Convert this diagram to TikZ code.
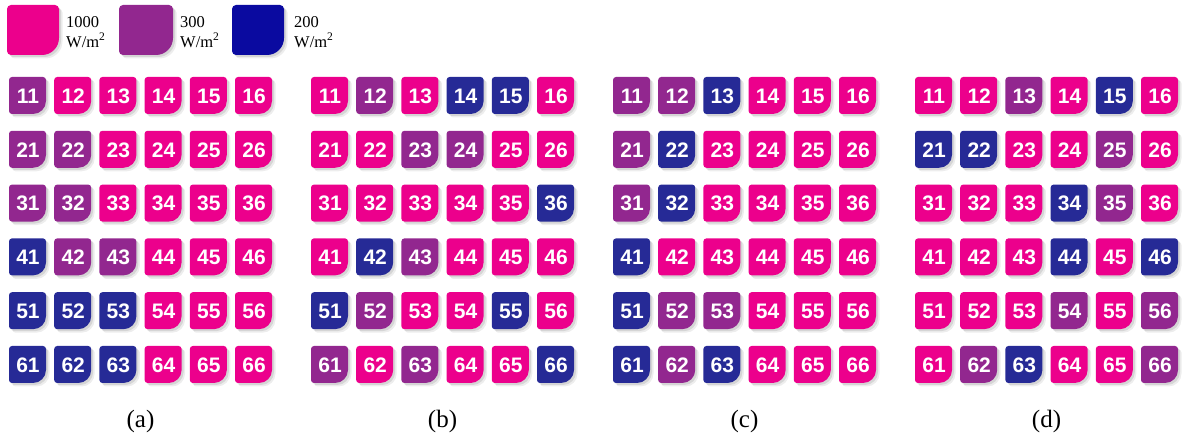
\documentclass[tikz,border=0pt]{standalone}
\usepackage{fontspec}
\setmainfont{Liberation Serif}
\newfontfamily\tilefont{Liberation Sans}
\definecolor{tM}{RGB}{236,0,140}
\definecolor{tP}{RGB}{146,39,143}
\definecolor{tB}{RGB}{38,42,150}
\definecolor{legB}{RGB}{10,10,160}
\def\tilepath#1#2#3#4{(0,#3) -- (0,#2-#3) arc[start angle=180,end angle=90,radius=#3] -- (#1-#3,#2) arc[start angle=90,end angle=0,radius=#3] -- (#1,#4) arc[start angle=0,end angle=-90,radius=#4] -- (#3,0) arc[start angle=270,end angle=180,radius=#3] -- cycle}
\begin{document}
\begin{tikzpicture}[x=1pt,y=1pt,
  tilelabel/.style={text=white,font=\tilefont\bfseries\fontsize{21}{21}\selectfont,inner sep=0pt},
  legendtext/.style={align=left,anchor=north west,inner sep=0pt,font=\fontsize{16.5}{20}\selectfont},
  panellabel/.style={anchor=base,inner sep=0pt,font=\fontsize{25}{25}\selectfont},
  shadowA/.style={fill=black,opacity=0.10},
  shadowB/.style={fill=black,opacity=0.07}]
\useasboundingbox (0,0) rectangle (1183,438);

% legend
\foreach \lx/\lw/\lc/\ln/\ltx/\ltxt in {7/52/tM/l1/66/1000, 119/54/tP/l2/180/300, 232/52/legB/l3/294/200}{
  \begin{scope}[shift={(\lx,383)}]
    \fill[shadowB] [shift={(3.5,-3.5)}] \tilepath{\lw}{50}{4}{17};
    \fill[shadowA] [shift={(2,-2)}] \tilepath{\lw}{50}{4}{17};
    \fill[\lc] \tilepath{\lw}{50}{4}{17};
  \end{scope}
  \node[legendtext] (\ln) at (\ltx,422) {\ltxt\\W/m\textsuperscript{2}};
}

% tiles
\foreach \p/\pl/\list in {
 0/a/{P,M,M,M,M,M, P,P,M,M,M,M, P,P,M,M,M,M, B,P,P,M,M,M, B,B,B,M,M,M, B,B,B,M,M,M},
 1/b/{M,P,M,B,B,M, M,M,P,P,M,M, M,M,M,M,M,B, M,B,P,M,M,M, B,P,M,M,B,M, P,M,P,M,M,B},
 2/c/{P,P,B,M,M,M, P,B,M,M,M,M, P,B,M,M,M,M, B,M,M,M,M,M, B,P,P,M,M,M, B,P,B,M,M,M},
 3/d/{M,M,P,M,B,M, B,B,M,M,P,M, M,M,M,B,P,M, M,M,M,B,M,B, M,M,M,P,M,P, M,P,B,M,M,P}}{
  \foreach \c [count=\i from 0] in \list {
    \pgfmathtruncatemacro\row{int(\i/6)}
    \pgfmathtruncatemacro\col{mod(\i,6)}
    \pgfmathsetmacro\tx{9+302*\p+45.2*\col}
    \pgfmathsetmacro\ty{438-77-53.8*\row-37}
    \pgfmathtruncatemacro\rr{\row+1}
    \pgfmathtruncatemacro\cc{\col+1}
    \begin{scope}[shift={(\tx,\ty)}]
      \fill[shadowB] [shift={(3.5,-3.5)}] \tilepath{37}{37}{3}{13};
      \fill[shadowA] [shift={(2,-2)}] \tilepath{37}{37}{3}{13};
      \fill[t\c] \tilepath{37}{37}{3}{13};
      \node[tilelabel] (\pl\rr\cc) at (19,18) {\rr\cc};
    \end{scope}
  }
}

% panel labels
\node[panellabel] (la) at (140.5,10) {(a)};
\node[panellabel] (lb) at (442.5,10) {(b)};
\node[panellabel] (lc) at (744.5,10) {(c)};
\node[panellabel] (ld) at (1046.5,10) {(d)};
\end{tikzpicture}
\end{document}
